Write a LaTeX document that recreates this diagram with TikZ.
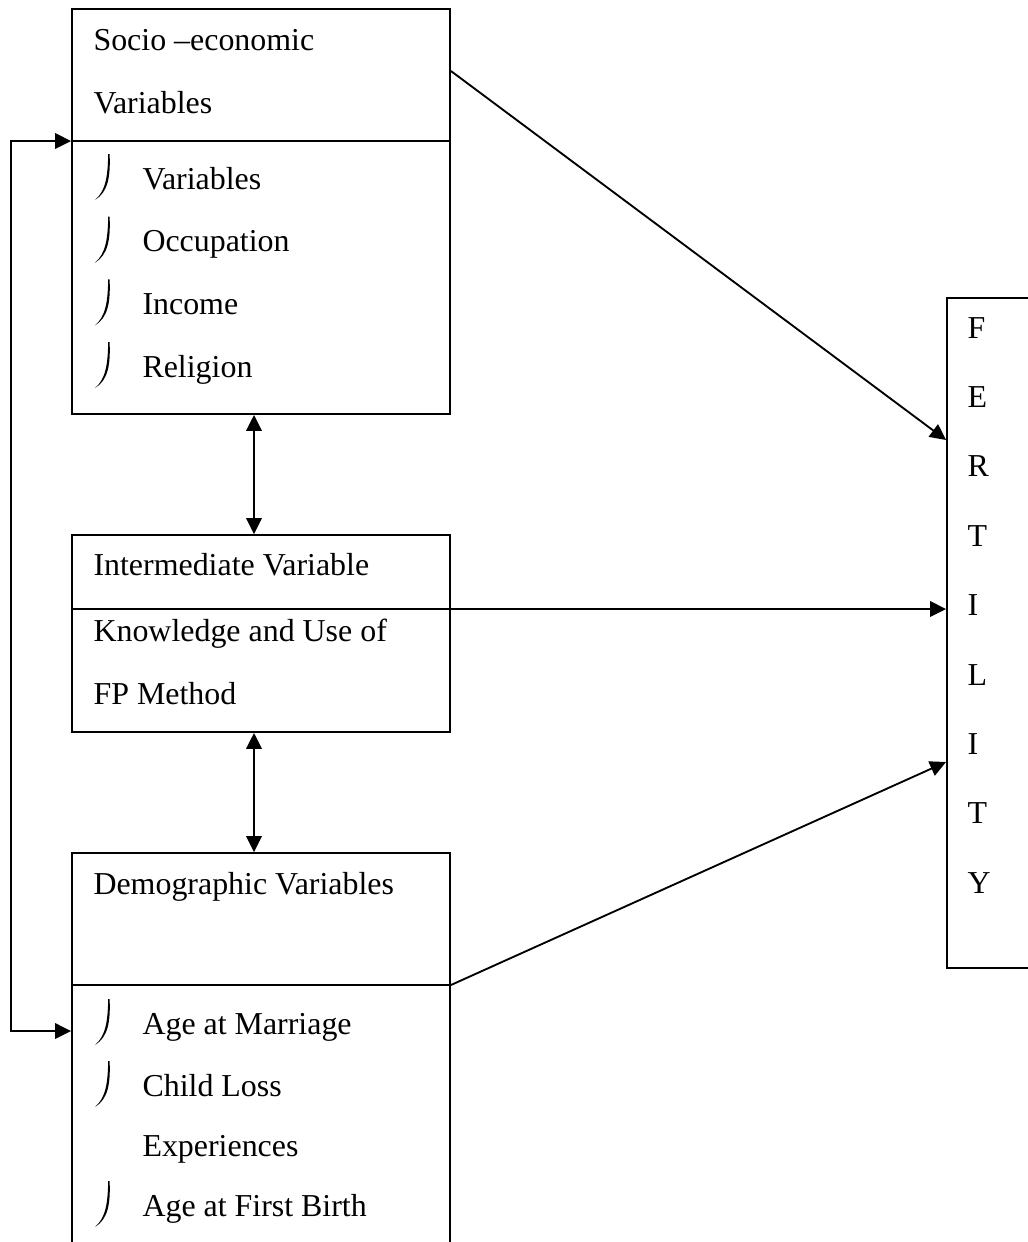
\documentclass[tikz,border=0pt]{standalone}
\usepackage{fontspec}
\setmainfont{Liberation Serif}
\usetikzlibrary{arrows.meta,fit}

\tikzset{
  box/.style={draw,rectangle,inner sep=0pt,line width=0.7pt},
  txt/.style={anchor=base west,inner sep=0pt,font=\fontsize{12}{14}\selectfont},
  arr/.style={line width=0.7pt,-{Triangle[length=6pt,width=5.8pt]}},
  dbl/.style={line width=0.7pt,{Triangle[length=6pt,width=5.8pt]}-{Triangle[length=6pt,width=5.8pt]}},
  bul/.pic={\fill (14.6,-35) .. controls (15.6,-12) and (13,3) .. (0,11)
                          .. controls (10.5,2) and (12.8,-12) .. (13.2,-35) -- cycle;}
}

\begin{document}
\begin{tikzpicture}[x=0.376pt,y=-0.376pt]
    \useasboundingbox (0,0) rectangle (1028,1242);
    \clip (0,0) rectangle (1028,1242);

    % boxes
    \node[box,fit={(72,9) (450,414)}] (soc) {};
    \node[box,fit={(72,535) (450,732)}] (mid) {};
    \node[box,fit={(72,853) (450,1270)}] (demo) {};
    \node[box,fit={(947,298) (1045,968)}] (fert) {};

    \draw[line width=0.7pt] (soc.west |- 0,141) -- (soc.east |- 0,141);
    \draw[line width=0.7pt] (mid.west |- 0,609) -- (mid.east |- 0,609);
    \draw[line width=0.7pt] (demo.west |- 0,985) -- (demo.east |- 0,985);

    % socio-economic
    \node[txt] (soc1) at (93,50) {Socio –economic};
    \node[txt] (soc2) at (93,113) {Variables};
    \foreach \t [count=\i] in {Variables,Occupation,Income,Religion}{
      \pic at (95,{189+62.7*(\i-1)}) {bul};
      \node[txt] (si\i) at (142,{189+62.7*(\i-1)}) {\t};
    }

    % intermediate
    \node[txt] (mid1) at (93,575) {Intermediate Variable};
    \node[txt] (mid2) at (93,641) {Knowledge and Use of};
    \node[txt] (mid3) at (93,704) {FP Method};

    % demographic
    \node[txt] (dem1) at (93,894) {Demographic Variables};
    \pic at (95,1034) {bul};
    \node[txt] (di1) at (142,1034) {Age at Marriage};
    \pic at (95,1096) {bul};
    \node[txt] (di2) at (142,1096) {Child Loss};
    \node[txt] (di3) at (142,1156) {Experiences};
    \pic at (95,1216) {bul};
    \node[txt] (di4) at (142,1216) {Age at First Birth};

    % fertility
    \foreach \l [count=\i] in {F,E,R,T,I,L,I,T,Y}
      \node[txt] (f\i) at (967,{338+69.4*(\i-1)}) {\l};

    % connectors
    \draw[arr] (soc.east |- 0,71) -- (fert.west |- 0,440);
    \draw[arr] (mid.east |- 0,609) -- (fert.west |- 0,609);
    \draw[arr] (demo.east |- 0,985) -- (fert.west |- 0,762);
    \draw[dbl] (soc.south -| 254,0) -- (mid.north -| 254,0);
    \draw[dbl] (mid.south -| 254,0) -- (demo.north -| 254,0);
    \draw[dbl] (soc.west |- 0,141) -- (11,141) -- (11,1031) -- (demo.west |- 0,1031);
\end{tikzpicture}
\end{document}
